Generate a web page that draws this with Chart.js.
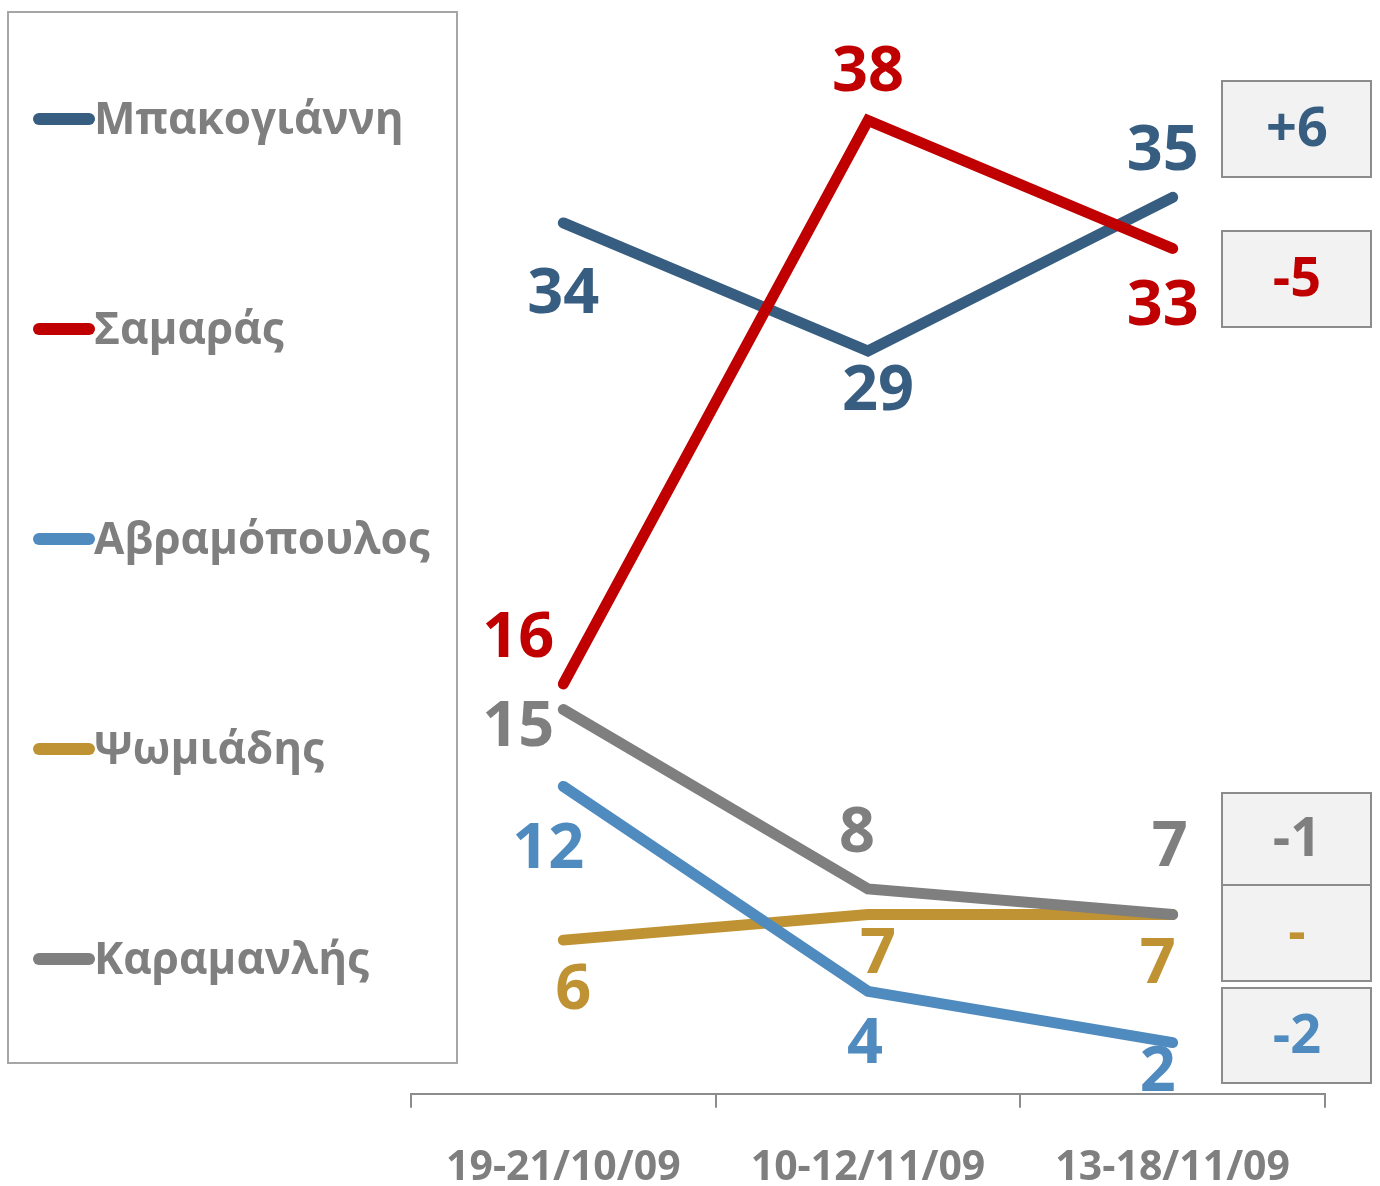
<!DOCTYPE html>
<html>
<head>
<meta charset="utf-8">
<script src="https://cdn.jsdelivr.net/npm/chart.js@4.4.1/dist/chart.umd.min.js"></script>
<style>
  html, body { margin: 0; padding: 0; background: #fff; }
  canvas { display: block; }
</style>
</head>
<body>
<canvas id="grafico" width="1380" height="1186"></canvas>
<script>
"use strict";

// Datos
const fechas = ['19-21/10/09', '10-12/11/09', '13-18/11/09'];
const nombres = ['Μπακογιάννη', 'Σαμαράς', 'Αβραμόπουλος', 'Ψωμιάδης', 'Καραμανλής'];
const mpakogianni = [34, 29, 35];
const samaras = [16, 38, 33];
const avramopoulos = [12, 4, 2];
const psomiadis = [6, 7, 7];
const karamanlis = [15, 8, 7];
const cambios = ['+6', '-5', '-2', '-', '-1'];

const colores = ['#375d81', '#c00000', '#508bbf', '#bf9333', '#7f7f7f'];
const gris = '#7f7f7f';
const fuente = '"Open Sans", "DejaVu Sans", sans-serif';

// desplazamiento de cada etiqueta respecto a su punto (px)
const desplazamientos = [
  [[0, 72], [10, 41], [-10, -45]],
  [[-45, -45], [0, -47], [-10, 59]],
  [[-15, 64], [-3, 54], [-15, 30]],
  [[10, 51], [10, 41], [-15, 51]],
  [[-45, 18], [-11, -55], [-3, -66]]
];
// cajas de la derecha: [top, bottom]
const cajas = [[81, 177], [231, 327], [988, 1083], [885, 981], [793, 885]];
const ordenDibujo = [2, 1, 3, 5, 4];

const series = [mpakogianni, samaras, avramopoulos, psomiadis, karamanlis];

const etiquetasPlugin = {
  id: 'etiquetas',
  afterDatasetsDraw(chart) {
    const ctx = chart.ctx;
    ctx.save();
    ctx.font = 'bold 63px ' + fuente;
    ctx.textAlign = 'center';
    ctx.textBaseline = 'middle';
    chart.data.datasets.forEach((ds, i) => {
      const meta = chart.getDatasetMeta(i);
      meta.data.forEach((p, j) => {
        const d = desplazamientos[i][j];
        ctx.fillStyle = colores[i];
        ctx.fillText(String(ds.data[j]), p.x + d[0], p.y + d[1]);
      });
    });
    ctx.restore();
  },
  afterDraw(chart) {
    const ctx = chart.ctx;
    ctx.save();
    // Leyenda
    ctx.strokeStyle = '#a6a6a6';
    ctx.lineWidth = 2;
    ctx.strokeRect(8, 12, 449, 1051);
    ctx.font = 'bold 44px ' + fuente;
    ctx.textBaseline = 'middle';
    ctx.textAlign = 'left';
    nombres.forEach((n, i) => {
      const y = 119 + i * 210;
      ctx.strokeStyle = colores[i];
      ctx.lineWidth = 12;
      ctx.lineCap = 'round';
      ctx.beginPath();
      ctx.moveTo(39, y);
      ctx.lineTo(89, y);
      ctx.stroke();
      ctx.fillStyle = gris;
      ctx.fillText(n, 94, y + 2);
    });
    // Cajas de cambios
    ctx.font = 'bold 54px ' + fuente;
    ctx.textAlign = 'center';
    cambios.forEach((c, i) => {
      const b = cajas[i];
      ctx.fillStyle = '#f2f2f2';
      ctx.fillRect(1222, b[0], 149, b[1] - b[0]);
      ctx.strokeStyle = '#8c8c8c';
      ctx.lineWidth = 2;
      ctx.strokeRect(1222, b[0], 149, b[1] - b[0]);
      ctx.fillStyle = colores[i];
      ctx.fillText(c, 1297, (b[0] + b[1]) / 2 + 2);
    });
    ctx.restore();
  }
};

const ctx = document.getElementById('grafico').getContext('2d');
new Chart(ctx, {
  type: 'line',
  data: {
    labels: fechas,
    datasets: series.map((s, i) => ({
      label: nombres[i],
      data: s,
      borderColor: colores[i],
      backgroundColor: colores[i],
      borderWidth: 11,
      borderCapStyle: 'round',
      borderJoinStyle: 'miter',
      pointRadius: 0,
      tension: 0,
      fill: false,
      order: ordenDibujo[i]
    }))
  },
  options: {
    responsive: false,
    animation: false,
    layout: { padding: { left: 411, right: 55, top: 18, bottom: -43 } },
    plugins: {
      legend: { display: false },
      tooltip: { enabled: false }
    },
    scales: {
      x: {
        offset: true,
        grid: {
          offset: true,
          drawOnChartArea: false,
          drawTicks: true,
          tickLength: 14,
          color: '#8c8c8c',
          lineWidth: 2
        },
        border: { color: '#8c8c8c', width: 2 },
        ticks: {
          color: gris,
          padding: 36,
          font: { family: fuente, size: 41, weight: 'bold' }
        }
      },
      y: {
        display: false,
        min: 0,
        max: 42
      }
    }
  },
  plugins: [etiquetasPlugin]
});
</script>
</body>
</html>
